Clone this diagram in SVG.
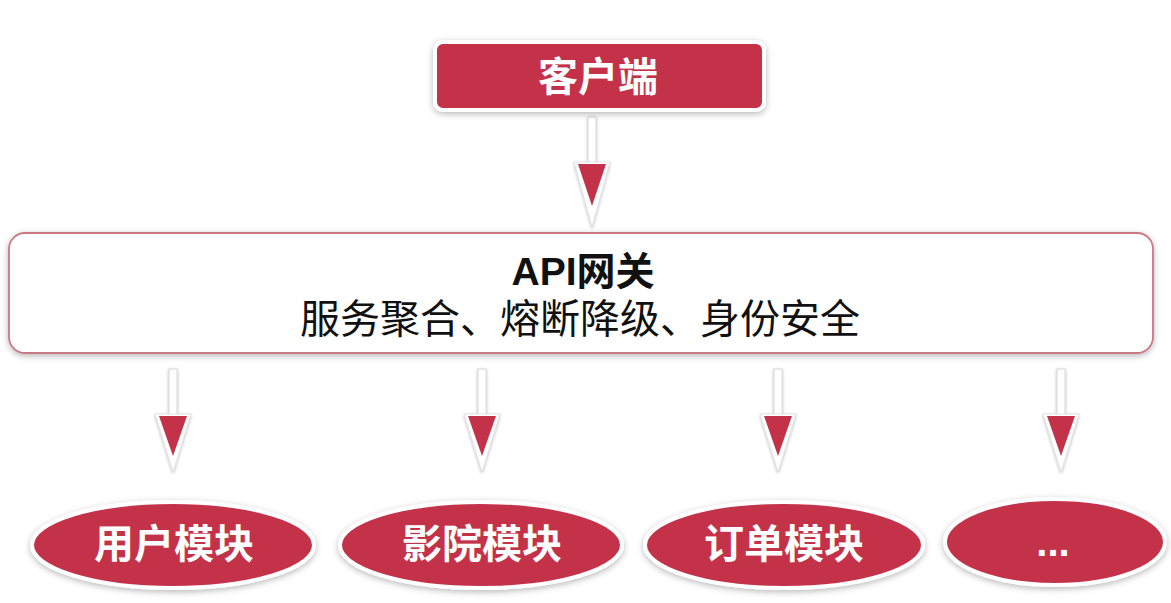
<svg xmlns="http://www.w3.org/2000/svg" width="1171" height="603" viewBox="0 0 1171 603">
<defs>
<filter id="sh" x="-10%" y="-20%" width="120%" height="150%">
<feDropShadow dx="0" dy="2" stdDeviation="3" flood-color="#000" flood-opacity="0.28"/>
</filter>
<filter id="sh2" x="-50%" y="-10%" width="200%" height="130%">
<feDropShadow dx="0" dy="1" stdDeviation="1.5" flood-color="#000" flood-opacity="0.3"/>
</filter>
<style>
.red{fill:#c4334a;stroke:#fff;stroke-width:4}
.lbl{font-family:"Liberation Sans","Noto Sans CJK SC",sans-serif;font-weight:bold;font-size:40px;fill:#fff;text-anchor:middle}
.dark{font-family:"Liberation Sans","Noto Sans CJK SC",sans-serif;fill:#111;text-anchor:middle}
.shaft{fill:#fff;stroke:#d8d8d8;stroke-width:1}
.tw{fill:#fff;stroke:#ddd;stroke-width:0.8}
.tr{fill:#c4334a}
</style>
</defs>
<rect width="1171" height="603" fill="#fff"/>

<g id="connectors" filter="url(#sh2)">
<g id="c0">
<rect class="shaft" x="588" y="117" width="8" height="47"/>
<polygon class="tw" points="574,162 610,162 592,227"/>
<polygon class="tr" points="578,164 606,164 592,206"/>
</g>
<g id="c1">
<rect class="shaft" x="169" y="369" width="8" height="47"/>
<polygon class="tw" points="155,414 191,414 173,472"/>
<polygon class="tr" points="159,416 187,416 173,456"/>
</g>
<g id="c2">
<rect class="shaft" x="478" y="369" width="8" height="47"/>
<polygon class="tw" points="464,414 500,414 482,472"/>
<polygon class="tr" points="468,416 496,416 482,456"/>
</g>
<g id="c3">
<rect class="shaft" x="774" y="369" width="8" height="47"/>
<polygon class="tw" points="760,414 796,414 778,472"/>
<polygon class="tr" points="764,416 792,416 778,456"/>
</g>
<g id="c4">
<rect class="shaft" x="1057" y="369" width="8" height="47"/>
<polygon class="tw" points="1043,414 1079,414 1061,472"/>
<polygon class="tr" points="1047,416 1075,416 1061,456"/>
</g>
</g>

<g id="client">
<rect class="red" x="435" y="42" width="329" height="68" rx="8" filter="url(#sh)"/>
<text class="lbl" x="598" y="91">客户端</text>
</g>

<g id="gateway">
<rect x="9" y="233" width="1144" height="120" rx="16" fill="#fff" stroke="#c97885" stroke-width="1.8" filter="url(#sh)"/>
<text class="dark" x="583" y="285" font-size="39" font-weight="bold">API网关</text>
<text class="dark" x="580" y="333" font-size="40">服务聚合、熔断降级、身份安全</text>
</g>

<g id="user">
<ellipse class="red" cx="173" cy="545" rx="141" ry="43" filter="url(#sh)"/>
<text class="lbl" x="174" y="558">用户模块</text>
</g>
<g id="cinema">
<ellipse class="red" cx="481" cy="545" rx="141" ry="43" filter="url(#sh)"/>
<text class="lbl" x="482" y="558">影院模块</text>
</g>
<g id="order">
<ellipse class="red" cx="784" cy="545" rx="139" ry="43" filter="url(#sh)"/>
<text class="lbl" x="784" y="558">订单模块</text>
</g>
<g id="more">
<ellipse class="red" cx="1055" cy="542" rx="110" ry="43" filter="url(#sh)"/>
<text class="lbl" x="1053" y="556">...</text>
</g>
</svg>
